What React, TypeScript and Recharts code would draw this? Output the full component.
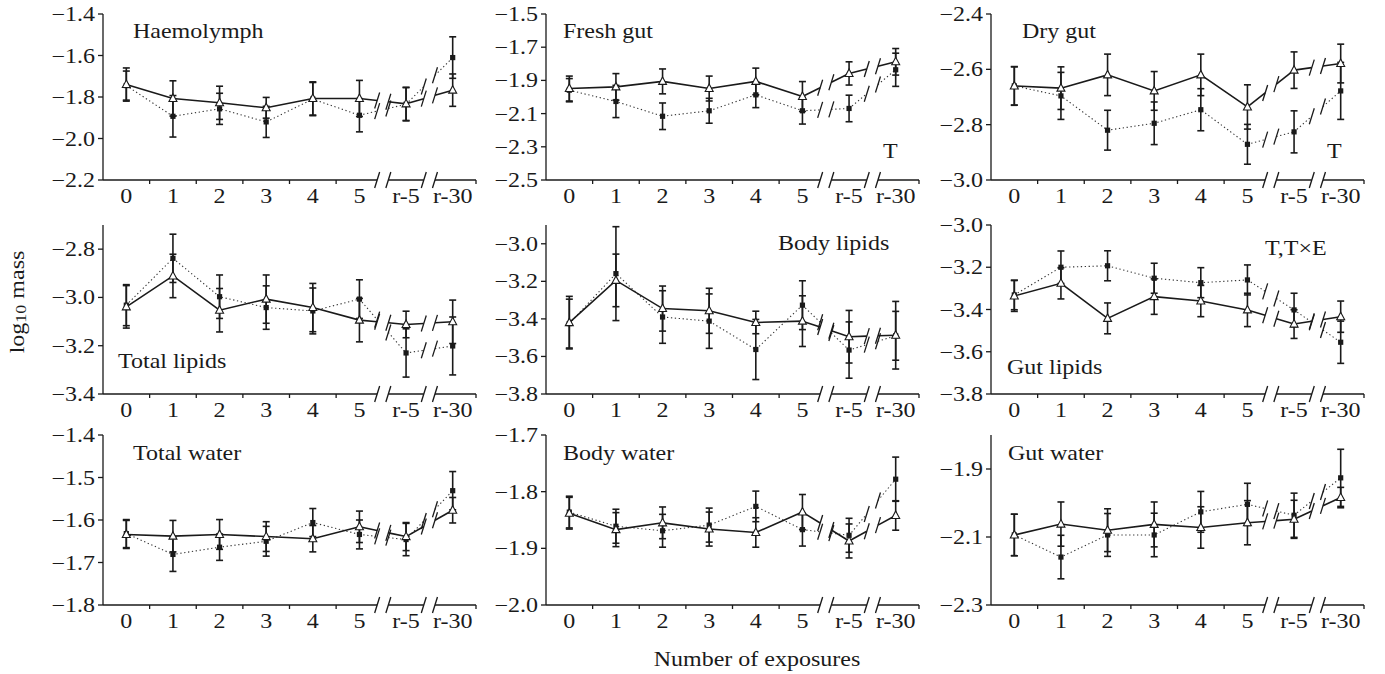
import React from "react";
import { ComposedChart, Line, XAxis, YAxis, ErrorBar, ReferenceLine, ReferenceDot } from "recharts";

const categories = ["0", "1", "2", "3", "4", "5", "r-5", "r-30"];

// A = solid line / open triangles, B = dotted line / filled squares
const haemoA = [-1.74, -1.807, -1.828, -1.852, -1.807, -1.807, -1.833, -1.767];
const haemoAErr = [0.08, 0.085, 0.08, 0.05, 0.08, 0.087, 0.08, 0.078];
const haemoB = [-1.745, -1.893, -1.857, -1.92, -1.81, -1.888, -1.835, -1.61];
const haemoBErr = [0.07, 0.1, 0.075, 0.075, 0.08, 0.08, 0.08, 0.1];

const freshA = [-1.949, -1.939, -1.906, -1.949, -1.906, -1.997, -1.858, -1.788];
const freshAErr = [0.075, 0.08, 0.075, 0.075, 0.08, 0.09, 0.07, 0.08];
const freshB = [-1.959, -2.027, -2.116, -2.083, -1.987, -2.083, -2.069, -1.836];
const freshBErr = [0.07, 0.097, 0.08, 0.075, 0.077, 0.08, 0.08, 0.1];

const dryA = [-2.66, -2.668, -2.62, -2.678, -2.62, -2.736, -2.603, -2.579];
const dryAErr = [0.07, 0.077, 0.075, 0.07, 0.075, 0.08, 0.066, 0.07];
const dryB = [-2.66, -2.696, -2.82, -2.795, -2.746, -2.871, -2.826, -2.678];
const dryBErr = [0.069, 0.085, 0.072, 0.077, 0.076, 0.072, 0.076, 0.103];

const totLipA = [-3.039, -2.911, -3.053, -3.007, -3.042, -3.094, -3.112, -3.101];
const totLipAErr = [0.088, 0.09, 0.09, 0.1, 0.1, 0.09, 0.055, 0.09];
const totLipB = [-3.032, -2.838, -2.997, -3.042, -3.056, -3.007, -3.23, -3.201];
const totLipBErr = [0.085, 0.1, 0.09, 0.09, 0.095, 0.08, 0.1, 0.12];

const bodyLipA = [-3.42, -3.195, -3.345, -3.357, -3.419, -3.412, -3.495, -3.487];
const bodyLipAErr = [0.14, 0.14, 0.12, 0.12, 0.06, 0.135, 0.14, 0.18];
const bodyLipB = [-3.425, -3.159, -3.39, -3.412, -3.563, -3.327, -3.566, -3.49];
const bodyLipBErr = [0.13, 0.25, 0.14, 0.145, 0.16, 0.13, 0.15, 0.13];

const gutLipA = [-3.336, -3.276, -3.442, -3.339, -3.36, -3.402, -3.469, -3.434];
const gutLipAErr = [0.073, 0.074, 0.073, 0.084, 0.074, 0.079, 0.068, 0.074];
const gutLipB = [-3.331, -3.2, -3.193, -3.252, -3.273, -3.26, -3.402, -3.555];
const gutLipBErr = [0.07, 0.077, 0.071, 0.071, 0.071, 0.071, 0.079, 0.1];

const totWatA = [-1.634, -1.638, -1.634, -1.639, -1.644, -1.616, -1.639, -1.577];
const totWatAErr = [0.033, 0.037, 0.035, 0.035, 0.031, 0.037, 0.033, 0.03];
const totWatB = [-1.632, -1.681, -1.664, -1.65, -1.606, -1.634, -1.646, -1.531];
const totWatBErr = [0.033, 0.04, 0.031, 0.035, 0.033, 0.034, 0.038, 0.045];

const bodyWatA = [-1.838, -1.867, -1.855, -1.866, -1.872, -1.836, -1.887, -1.842];
const bodyWatAErr = [0.028, 0.03, 0.028, 0.03, 0.026, 0.031, 0.03, 0.026];
const bodyWatB = [-1.836, -1.861, -1.869, -1.859, -1.826, -1.867, -1.877, -1.778];
const bodyWatBErr = [0.028, 0.03, 0.029, 0.03, 0.027, 0.029, 0.03, 0.039];

const gutWatA = [-2.094, -2.062, -2.08, -2.063, -2.072, -2.058, -2.048, -1.984];
const gutWatAErr = [0.061, 0.065, 0.063, 0.066, 0.061, 0.065, 0.056, 0.03];
const gutWatB = [-2.094, -2.159, -2.094, -2.094, -2.026, -2.004, -2.036, -1.926];
const gutWatBErr = [0.061, 0.064, 0.063, 0.064, 0.06, 0.062, 0.065, 0.084];

const haemoTicks = [-2.2, -2.0, -1.8, -1.6, -1.4];
const freshTicks = [-2.5, -2.3, -2.1, -1.9, -1.7, -1.5];
const dryTicks = [-3.0, -2.8, -2.6, -2.4];
const totLipTicks = [-3.4, -3.2, -3.0, -2.8];
const bodyLipTicks = [-3.8, -3.6, -3.4, -3.2, -3.0];
const gutLipTicks = [-3.8, -3.6, -3.4, -3.2, -3.0];
const totWatTicks = [-1.8, -1.7, -1.6, -1.5, -1.4];
const bodyWatTicks = [-2.0, -1.9, -1.8, -1.7];
const gutWatTicks = [-2.3, -2.1, -1.9];

const SERIF = '"Liberation Serif", "Times New Roman", "DejaVu Serif", serif';
const INK = "#1a1a1a";
const SX = 1.2; // lettering in the figure is wider than Times
const PW = 373;
const GAP = 0.12; // half width of the axis breaks, in category units
const xTicks = [0, 0.5, 1, 1.5, 2, 2.5, 3, 3.5, 4, 4.5, 5, 6, 7, 7.5];

const fmt = (v: number) => v.toFixed(1).replace("-", "\u2212");

function XTick(props: any) {
  const { x, y, payload } = props;
  const v = payload.value;
  if (Number.isInteger(v)) {
    return (
      <text transform={`translate(${x},${y + 23}) scale(${SX},1)`} textAnchor="middle" fontSize={20} fontFamily={SERIF} fill={INK}>
        {categories[v]}
      </text>
    );
  }
  return <line x1={x} y1={y} x2={x} y2={y + 4} stroke={INK} strokeWidth={1.3} />;
}

function YTick(props: any) {
  const { x, y, payload } = props;
  return (
    <text transform={`translate(${x},${y}) scale(${SX},1)`} textAnchor="end" dy="0.35em" fontSize={20} fontFamily={SERIF} fill={INK}>
      {fmt(payload.value)}
    </text>
  );
}

const slash = (p: any) => (
  <path d={`M${p.cx - 2.5},${p.cy + 8}L${p.cx + 2.5},${p.cy - 8}`} stroke={INK} strokeWidth={1.3} fill="none" />
);

const triangle = (p: any) => (
  <path key={`t${p.index}`} d={`M${p.cx},${p.cy - 4.5}L${p.cx + 4},${p.cy + 3}L${p.cx - 4},${p.cy + 3}Z`} fill="#fff" stroke={INK} strokeWidth={1.1} />
);

const square = (p: any) => <rect key={`s${p.index}`} x={p.cx - 2.6} y={p.cy - 2.6} width={5.2} height={5.2} fill={INK} />;

// line pieces either side of the two breaks (5 | r-5 | r-30)
function pieces(vals: number[]) {
  const out: { x1: number; y1: number; x2: number; y2: number }[] = [];
  [5, 6].forEach((i) => {
    const at = (x: number) => vals[i] + (vals[i + 1] - vals[i]) * (x - i);
    out.push({ x1: i, y1: vals[i], x2: i + 0.5 - GAP, y2: at(i + 0.5 - GAP) });
    out.push({ x1: i + 0.5 + GAP, y1: at(i + 0.5 + GAP), x2: i + 1, y2: vals[i + 1] });
  });
  return out;
}

type PanelProps = {
  left: number; top: number; bottom: number;
  domain: [number, number]; ticks: number[];
  a: number[]; aErr: number[]; b: number[]; bErr: number[];
};

function Panel({ left, top, bottom, domain, ticks, a, aErr, b, bErr }: PanelProps) {
  const rows = categories.map((_, i) => ({
    x: i, a: a[i], aErr: aErr[i], b: b[i], bErr: bErr[i],
    aLine: i <= 5 ? a[i] : null, bLine: i <= 5 ? b[i] : null,
  }));
  const lo = domain[0];
  const axisParts = [[-0.5, 5.5 - GAP], [5.5 + GAP, 6.5 - GAP], [6.5 + GAP, 7.5]];
  const breakX = [5.5 - GAP, 5.5 + GAP, 6.5 - GAP, 6.5 + GAP];
  const series = [
    { p: pieces(b), dash: "1.3 2.6", w: 1.1 },
    { p: pieces(a), dash: undefined, w: 1.6 },
  ];

  return (
    <div style={{ position: "absolute", left: left - 60, top: top - 12 }}>
      <ComposedChart width={60 + PW + 12} height={12 + bottom - top + 30} data={rows}
        margin={{ top: 12, right: 12, bottom: 0, left: 0 }}>
        <XAxis type="number" dataKey="x" domain={[-0.5, 7.5]} ticks={xTicks} interval={0}
          axisLine={false} tickLine={false} tickSize={0} tickMargin={0} height={30}
          tick={(p: any) => <XTick {...p} />} allowDataOverflow />
        <YAxis type="number" domain={domain} ticks={ticks} interval={0} width={60}
          axisLine={{ stroke: INK, strokeWidth: 1.3 }} tickLine={{ stroke: INK, strokeWidth: 1.3 }}
          tickSize={5} tickMargin={3} tick={(p: any) => <YTick {...p} />} allowDataOverflow />

        {axisParts.map(([x1, x2], i) => (
          <ReferenceLine key={`ax${i}`} segment={[{ x: x1, y: lo }, { x: x2, y: lo }]}
            stroke={INK} strokeWidth={1.3} ifOverflow="visible" />
        ))}
        {breakX.map((x, i) => (
          <ReferenceDot key={`ab${i}`} x={x} y={lo} r={0} shape={slash} ifOverflow="visible" />
        ))}

        <Line dataKey="bLine" stroke="#333" strokeWidth={1.1} strokeDasharray="1.3 2.6" dot={false}
          activeDot={false} connectNulls={false} isAnimationActive={false} />
        <Line dataKey="aLine" stroke={INK} strokeWidth={1.6} dot={false}
          activeDot={false} connectNulls={false} isAnimationActive={false} />

        {series.map((s, si) =>
          s.p.map((seg, i) => (
            <ReferenceLine key={`pc${si}-${i}`} segment={[{ x: seg.x1, y: seg.y1 }, { x: seg.x2, y: seg.y2 }]}
              stroke={si === 0 ? "#333" : INK} strokeWidth={s.w} strokeDasharray={s.dash} ifOverflow="visible" />
          ))
        )}
        {series.map((s, si) =>
          s.p.map((seg, i) => (
            <ReferenceDot key={`ps${si}-${i}`} x={i % 2 === 0 ? seg.x2 : seg.x1} y={i % 2 === 0 ? seg.y2 : seg.y1}
              r={0} shape={slash} ifOverflow="visible" />
          ))
        )}

        <Line dataKey="b" stroke="none" dot={square} activeDot={false} isAnimationActive={false}>
          <ErrorBar dataKey="bErr" direction="y" width={3.5} stroke={INK} strokeWidth={1.6} />
        </Line>
        <Line dataKey="a" stroke="none" dot={triangle} activeDot={false} isAnimationActive={false}>
          <ErrorBar dataKey="aErr" direction="y" width={3.5} stroke={INK} strokeWidth={1.6} />
        </Line>
      </ComposedChart>
    </div>
  );
}

const labels = [
  { text: "Haemolymph", x: 133, y: 38 },
  { text: "Fresh gut", x: 563, y: 38 },
  { text: "T", x: 883, y: 158 },
  { text: "Dry gut", x: 1022, y: 38 },
  { text: "T", x: 1327, y: 158 },
  { text: "Total lipids", x: 118, y: 368 },
  { text: "Body lipids", x: 778, y: 250 },
  { text: "T,T\u00d7E", x: 1265, y: 255 },
  { text: "Gut lipids", x: 1007, y: 374 },
  { text: "Total water", x: 133, y: 460 },
  { text: "Body water", x: 563, y: 460 },
  { text: "Gut water", x: 1008, y: 460 },
];

export default function App() {
  const cols = [103, 546, 991];
  const rows = [{ t: 14, b: 180 }, { t: 225, b: 394 }, { t: 435, b: 605 }];
  return (
    <div style={{ position: "relative", width: 1385, height: 674, background: "#fff", overflow: "hidden" }}>
      <style>{"body{margin:0}"}</style>
      <Panel left={cols[0]} top={rows[0].t} bottom={rows[0].b} domain={[-2.2, -1.4]} ticks={haemoTicks}
        a={haemoA} aErr={haemoAErr} b={haemoB} bErr={haemoBErr} />
      <Panel left={cols[1]} top={rows[0].t} bottom={rows[0].b} domain={[-2.5, -1.5]} ticks={freshTicks}
        a={freshA} aErr={freshAErr} b={freshB} bErr={freshBErr} />
      <Panel left={cols[2]} top={rows[0].t} bottom={rows[0].b} domain={[-3.0, -2.4]} ticks={dryTicks}
        a={dryA} aErr={dryAErr} b={dryB} bErr={dryBErr} />
      <Panel left={cols[0]} top={rows[1].t} bottom={rows[1].b} domain={[-3.4, -2.7]} ticks={totLipTicks}
        a={totLipA} aErr={totLipAErr} b={totLipB} bErr={totLipBErr} />
      <Panel left={cols[1]} top={rows[1].t} bottom={rows[1].b} domain={[-3.8, -2.9]} ticks={bodyLipTicks}
        a={bodyLipA} aErr={bodyLipAErr} b={bodyLipB} bErr={bodyLipBErr} />
      <Panel left={cols[2]} top={rows[1].t} bottom={rows[1].b} domain={[-3.8, -3.0]} ticks={gutLipTicks}
        a={gutLipA} aErr={gutLipAErr} b={gutLipB} bErr={gutLipBErr} />
      <Panel left={cols[0]} top={rows[2].t} bottom={rows[2].b} domain={[-1.8, -1.4]} ticks={totWatTicks}
        a={totWatA} aErr={totWatAErr} b={totWatB} bErr={totWatBErr} />
      <Panel left={cols[1]} top={rows[2].t} bottom={rows[2].b} domain={[-2.0, -1.7]} ticks={bodyWatTicks}
        a={bodyWatA} aErr={bodyWatAErr} b={bodyWatB} bErr={bodyWatBErr} />
      <Panel left={cols[2]} top={rows[2].t} bottom={rows[2].b} domain={[-2.3, -1.8]} ticks={gutWatTicks}
        a={gutWatA} aErr={gutWatAErr} b={gutWatB} bErr={gutWatBErr} />

      <svg width={1385} height={674} style={{ position: "absolute", left: 0, top: 0, pointerEvents: "none" }}>
        {labels.map((l, i) => (
          <text key={i} transform={`translate(${l.x},${l.y}) scale(${SX},1)`} fontSize={20} fontFamily={SERIF} fill={INK}>
            {l.text}
          </text>
        ))}
        <text transform={`translate(757,666) scale(${SX},1)`} textAnchor="middle" fontSize={20} fontFamily={SERIF} fill={INK}>
          Number of exposures
        </text>
        <text transform={`translate(24,302) rotate(-90) scale(${SX},1)`} textAnchor="middle" fontSize={20} fontFamily={SERIF} fill={INK}>
          log<tspan fontSize={15} dy={2}>10</tspan><tspan dy={-2}> mass</tspan>
        </text>
      </svg>
    </div>
  );
}
